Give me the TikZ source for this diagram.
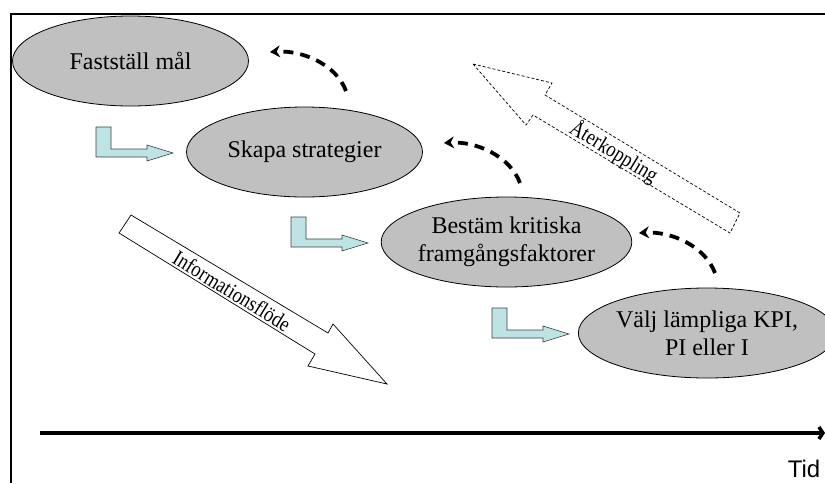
\documentclass[tikz,border=0pt]{standalone}
\usepackage{fontspec}
\setmainfont{Liberation Serif}
\setsansfont{Liberation Sans}
\usetikzlibrary{arrows.meta,shapes.geometric,calc}
\definecolor{ellgray}{RGB}{192,192,192}
\definecolor{lblue}{RGB}{190,227,228}
\newcommand{\narrowtext}[1]{\scalebox{0.84}[1]{#1}}
\begin{document}
\begin{tikzpicture}[x=1pt,y=-1pt,
  goal/.style={ellipse, draw=black, line width=0.8pt, fill=ellgray,
    minimum width=236pt, minimum height=90pt, inner sep=0pt, align=center,
    font=\fontsize{24}{28}\selectfont},
  fbarrow/.style={line width=3.8pt, dash pattern=on 10pt off 7pt,
    -{Stealth[length=10pt,width=12pt]}},
  bentarrow/.style={draw=black!75, line width=0.6pt, fill=lblue},
  bigarrow/.style={draw=black, line width=0.7pt, fill=white},
  arrowlabel/.style={font=\fontsize{22}{24}\selectfont, rotate=-31.4, inner sep=0pt},
  framestyle/.style={line width=2pt},
]
\useasboundingbox (0,0) rectangle (825,483);

% frame
\coordinate (fbl) at (11,483);
\coordinate (ftl) at (11,14);
\coordinate (ftr) at (825,14);
\draw[framestyle] (fbl) -- (ftl) -- (ftr);

% big arrows
\draw[bigarrow] (131,215) -- (328,333) -- (333,324) -- (387,384) -- (308,366)
  -- (315,354) -- (119,233) -- cycle;
\node[arrowlabel] (info) at (232,291) {\narrowtext{Informationsflöde}};

\draw[bigarrow, dash pattern=on 3pt off 2pt] (473,64) -- (552,83) -- (545,95)
  -- (740,213) -- (730,233) -- (533,115) -- (526,125) -- cycle;
\node[arrowlabel] (ater) at (614,152) {\narrowtext{Återkoppling}};

% ellipses
\node[goal] (g1) at (130.5,61) {Fastställ mål};
\node[goal] (g2) at (304.5,152) {Skapa strategier};
\node[goal] (g3) at (506.5,242) {Bestäm kritiska\\framgångsfaktorer};
\node[goal] (g4) at (707,333) {Välj lämpliga KPI,\\PI eller I};

% bent arrows
\foreach \ox/\oy in {96/127, 291/217, 492/308}{
  \path[bentarrow, shift={(\ox,\oy)}] (0,0) -- (15,0) -- (15,22) -- (51,22)
    -- (51,18) -- (77,26) -- (51,34) -- (51,30) -- (0,30) -- cycle;
}

% feedback dashed arrows
\coordinate (s1) at (346,91);  \coordinate (e1) at (270,52);
\coordinate (s2) at (520,183); \coordinate (e2) at (444,143);
\coordinate (s3) at (715,273); \coordinate (e3) at (639,233);
\draw[fbarrow] (s1) .. controls ($(s1)+(-10,-27)$) and ($(e1)+(32,-2)$) .. (e1);
\draw[fbarrow] (s2) .. controls ($(s2)+(-10,-27)$) and ($(e2)+(32,-2)$) .. (e2);
\draw[fbarrow] (s3) .. controls ($(s3)+(-10,-27)$) and ($(e3)+(32,-2)$) .. (e3);

% time axis
\coordinate (t0) at (40,433);
\coordinate (t1) at (825,433);
\draw[line width=3.5pt, -{Straight Barb[length=4pt,width=12pt]}] (t0) -- (t1);
\node[anchor=base, font=\sffamily\fontsize{24}{28}\selectfont, inner sep=0pt] (tid) at (804,477) {Tid};
\end{tikzpicture}
\end{document}
